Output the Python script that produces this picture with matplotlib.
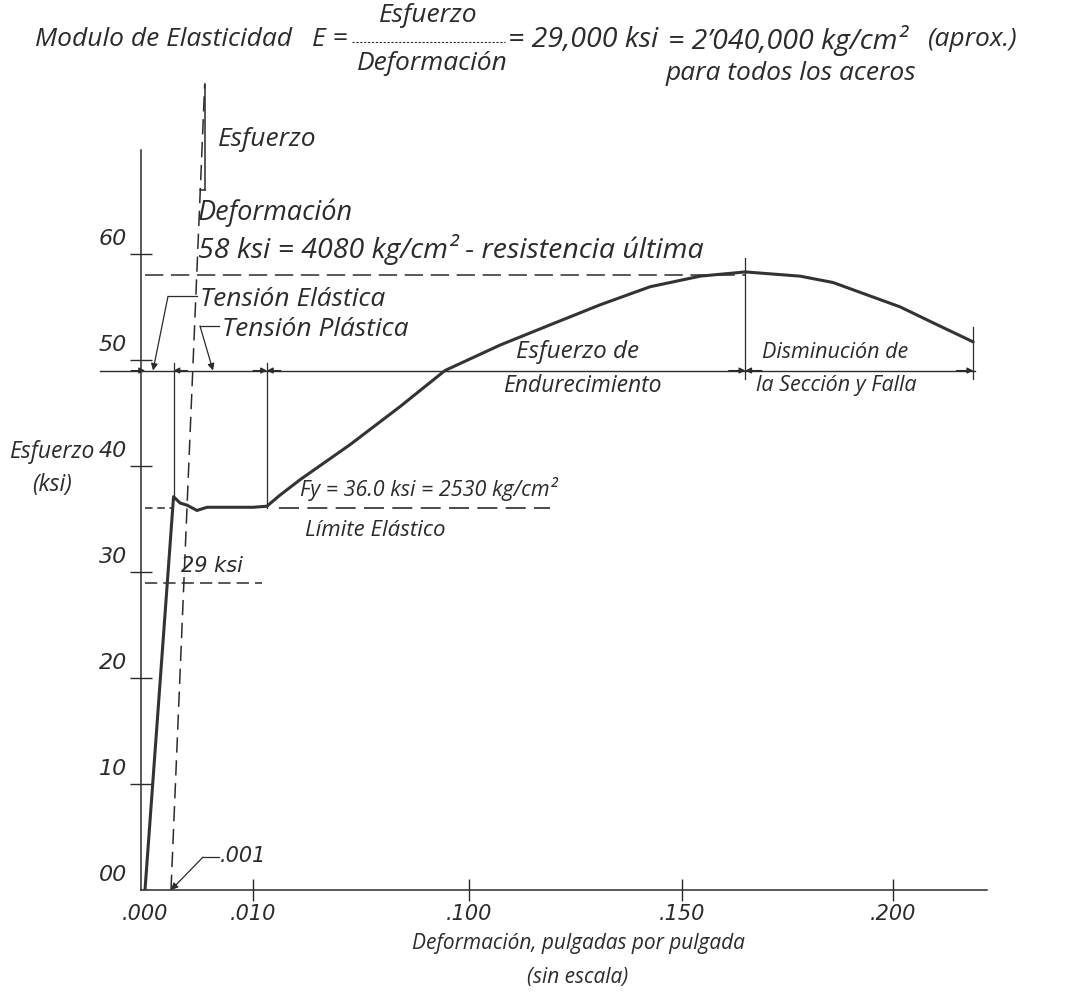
import numpy as np
import matplotlib.pyplot as plt
from matplotlib.lines import Line2D

# x axis is "sin escala": strain knots and their relative drawing positions
axis_strain = [-0.010, 0.000, 0.001, 0.010, 0.100, 0.150, 0.200, 0.300]
axis_pos = [-260, 0, 26, 108, 324, 537, 748, 1170]

x_ticks = [0.000, 0.010, 0.100, 0.150, 0.200]
x_tick_labels = ['.000', '.010', '.100', '.150', '.200']
y_ticks = [0, 10, 20, 30, 40, 50, 60]
y_tick_labels = ['00', '10', '20', '30', '40', '50', '60']

# stress-strain curve (strain in/in, stress ksi)
strain = [0.0, 0.00128, 0.0020, 0.00276, 0.00385, 0.00495, 0.0100, 0.0158,
          0.0210, 0.0296, 0.0504, 0.0713, 0.0900, 0.1073, 0.1190, 0.1308,
          0.1425, 0.1543, 0.1650, 0.1780, 0.1858, 0.2017, 0.2095, 0.2190]
stress = [0.0, 37.1, 36.5, 36.3, 35.8, 36.1, 36.1, 36.2,
          37.2, 38.7, 42.0, 45.6, 49.0, 51.4, 53.3, 55.2,
          56.9, 57.9, 58.3, 57.9, 57.3, 55.0, 53.5, 51.7]

fy = 36.0
fu = 58.0
f29 = 29.0
eps_001 = 0.001
zone_level = 49.0
zone_bounds = [0.0, 0.00128, 0.0158, 0.165, 0.219]

INK = '#2b2b2b'
FONT = ['Open Sans', 'DejaVu Sans']
HAND = ['DejaVu Sans']
plt.rcParams['font.family'] = FONT
plt.rcParams['font.style'] = 'italic'

W, H = 1076, 1002
fig = plt.figure(figsize=(W / 100, H / 100), dpi=100)
fig.patch.set_facecolor('white')


def px(x, y):
    return x / W, 1 - y / H


ax = fig.add_axes([141 / W, (H - 890) / H, (987 - 141) / W, (890 - 150) / H])


def fwd(s):
    return np.interp(s, axis_strain, axis_pos)


def inv(p):
    return np.interp(p, axis_pos, axis_strain)


ax.set_xscale('function', functions=(fwd, inv))
ax.set_xlim(inv(-4), inv(842))
ax.set_ylim(0, 69.8)

for side in ['top', 'right']:
    ax.spines[side].set_visible(False)
for side in ['left', 'bottom']:
    ax.spines[side].set_color(INK)
    ax.spines[side].set_linewidth(1.1)

ax.set_xticks(x_ticks)
ax.set_xticklabels(x_tick_labels, family=HAND, style='oblique')
ax.set_yticks(y_ticks)
ax.set_yticklabels([])
ax.tick_params(axis='both', direction='inout', length=16, width=1.0, color=INK)
ax.tick_params(axis='x', labelsize=15, labelcolor=INK, pad=2)
ax.xaxis.get_major_ticks()[0].tick1line.set_visible(False)
ax.yaxis.get_major_ticks()[0].tick1line.set_visible(False)
for v, lab in zip(y_ticks, y_tick_labels):
    ax.annotate(lab, xy=(0, v), xycoords=('axes fraction', 'data'),
                xytext=(-10, 11), textcoords='offset points', family=HAND,
                style='oblique', ha='right', va='center', fontsize=16, color=INK)

# main curve
ax.plot(strain, stress, color='#333333', lw=2.2, solid_joinstyle='round',
        solid_capstyle='round', zorder=5)

# dashed reference lines
ax.plot([0, zone_bounds[3]], [fu, fu], color=INK, lw=1.1, dashes=(12, 5))
ax.plot([0, fy / 29000], [fy, fy], color=INK, lw=1.1, dashes=(5, 3))
ax.plot([0.021, 0.119], [fy, fy], color=INK, lw=1.2, dashes=(12, 5))
ax.plot([0, 0.0137], [f29, f29], color=INK, lw=1.1, dashes=(8, 4))

# slope triangle (E = esfuerzo / deformacion)
tri_top = 76.0
tri_mid = 66.0
ax.plot([eps_001, 0.0047], [0, tri_top], color=INK, lw=1.1, dashes=(10, 5), clip_on=False)
ax.plot([0.0047, 0.0047], [tri_mid, tri_top], color=INK, lw=1.1, clip_on=False)
ax.plot([0.0042, 0.0047], [tri_mid, tri_mid], color=INK, lw=1.1, clip_on=False)

# zone dimension line
ax.plot([inv(-45), zone_bounds[-1] + 0.0005], [zone_level, zone_level],
        color=INK, lw=1.0, clip_on=False)
ax.plot([zone_bounds[1], zone_bounds[1]], [stress[1], zone_level + 0.7], color=INK, lw=0.9)
ax.plot([zone_bounds[2], zone_bounds[2]], [fy, zone_level + 0.7], color=INK, lw=0.9)
ax.plot([zone_bounds[3], zone_bounds[3]], [zone_level - 0.8, 59.6], color=INK, lw=0.9)
ax.plot([zone_bounds[4], zone_bounds[4]], [zone_level - 0.8, 53.1], color=INK, lw=0.9)


def head(tip, dx):
    ax.annotate('', xy=(tip, zone_level), xytext=(dx, 0), textcoords='offset points',
                arrowprops=dict(arrowstyle='-|>', color=INK, lw=0.8,
                                mutation_scale=9, shrinkA=0, shrinkB=0))


head(0.0, -10)
head(zone_bounds[1], 10)
head(zone_bounds[2], -10)
head(zone_bounds[2], 10)
head(zone_bounds[3], -12)
head(zone_bounds[3], 12)
head(zone_bounds[4], -12)


def leader(x0, x1, y0, tip):
    ax.plot([inv(x0), inv(x1)], [y0, y0], color=INK, lw=0.9, clip_on=False)
    ax.annotate('', xy=tip, xytext=(inv(x1), y0),
                arrowprops=dict(arrowstyle='-|>', color=INK, lw=0.9, mutation_scale=10,
                                shrinkA=0, shrinkB=0))


leader(52, 23, 56.0, (inv(8), zone_level))
leader(74, 55, 53.2, (inv(68), zone_level))
leader(74, 58, 3.1, (eps_001, 0))


# texts
def t(x, y, s, size=15, **kw):
    fig.text(*px(x, y), s, fontsize=size, color=INK, va='center', **kw)


t(35, 40, 'Modulo de Elasticidad', 19)
t(312, 40, 'E =', 19)
t(428, 16, 'Esfuerzo', 19, ha='center')
fig.add_artist(Line2D([352 / W, 505 / W], [1 - 42 / H, 1 - 42 / H], color=INK,
                      lw=0.8, dashes=(2, 1.5)))
t(432, 63, 'Deformación', 19, ha='center')
t(508, 40, '= 29,000 ksi', 20.5)
t(668, 40, '= 2’040,000 kg/cm²', 20.5)
t(928, 40, '(aprox.)', 19)
t(791, 74, 'para todos los aceros', 19, ha='center')

t(218, 140, 'Esfuerzo', 19)
t(198, 213, 'Deformación', 19.5)
t(198, 250, '58 ksi = 4080 kg/cm² - resistencia última', 20.5)
t(200, 299, 'Tensión Elástica', 19)
t(222, 329, 'Tensión Plástica', 19)
t(578, 352, 'Esfuerzo de', 17.5, ha='center')
t(582, 386, 'Endurecimiento', 16.5, ha='center')
t(835, 352, 'Disminución de', 15.5, ha='center')
t(836, 386, 'la Sección y Falla', 15.5, ha='center')
t(300, 489, 'Fy = 36.0 ksi = 2530 kg/cm²', 15.5)
t(305, 530, 'Límite Elástico', 16)
t(181, 566, '29 ksi', 15, family=HAND, style='oblique')
t(220, 856, '.001', 15, family=HAND, style='oblique')
t(52, 452, 'Esfuerzo', 16.5, ha='center')
t(52, 485, '(ksi)', 16.5, ha='center')
t(578, 943, 'Deformación, pulgadas por pulgada', 15, ha='center')
t(578, 978, '(sin escala)', 15, ha='center')

fig.savefig('out.png', dpi=100, facecolor='white')
